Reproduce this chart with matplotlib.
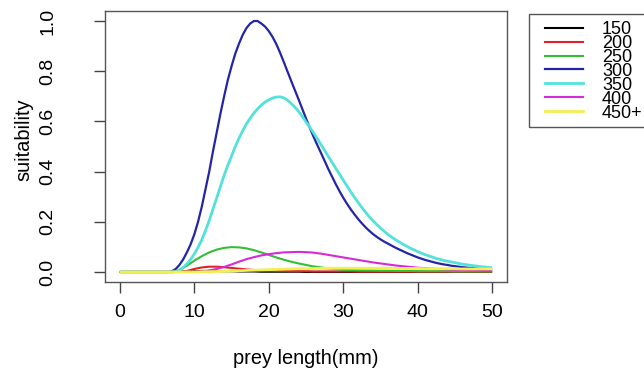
import matplotlib
matplotlib.use("Agg")
import matplotlib.pyplot as plt
from matplotlib.lines import Line2D
from matplotlib.patches import Rectangle

plt.rcParams['font.family'] = ['Liberation Sans', 'DejaVu Sans']

# prey length grids (mm): 1 mm for the small curves, 0.5 mm for the two large ones
prey_len = list(range(0, 51))
prey_len_fine = [i * 0.5 for i in range(101)]

# suitability by predator length class
s150 = [0]*8 + [0.001, 0.002, 0.003, 0.004, 0.004, 0.004, 0.003, 0.003, 0.002, 0.002,
                0.002, 0.001, 0.001, 0.001, 0.001, 0.001, 0.001] + [0.0]*26
s200 = [0]*9 + [0.004, 0.012, 0.018, 0.021, 0.021, 0.019, 0.016, 0.013, 0.010, 0.008,
                0.006, 0.005, 0.004, 0.004, 0.003, 0.003, 0.003, 0.002, 0.002, 0.002,
                0.002, 0.002, 0.002, 0.001, 0.001, 0.001, 0.001, 0.001, 0.001, 0.001,
                0.001, 0.001, 0.001, 0.001, 0.001, 0.001, 0.001, 0.001, 0.001, 0.001,
                0.001, 0.001]
s250 = [0]*8 + [0.008, 0.025, 0.045, 0.063, 0.078, 0.089, 0.096, 0.099, 0.098, 0.094,
                0.087, 0.078, 0.068, 0.058, 0.049, 0.041, 0.034, 0.028, 0.022, 0.018,
                0.014, 0.011, 0.009, 0.008, 0.007, 0.006, 0.006, 0.005, 0.005, 0.004,
                0.004, 0.004, 0.003, 0.003, 0.003, 0.003, 0.003, 0.002, 0.002, 0.002,
                0.002, 0.002, 0.002]
s300 = [0]*14 + [0.003, 0.012, 0.028, 0.05, 0.078, 0.11, 0.15, 0.20, 0.26, 0.33,
                 0.40, 0.48, 0.555, 0.63, 0.70, 0.765, 0.82, 0.87, 0.91, 0.945,
                 0.972, 0.99, 1.0, 1.0, 0.99, 0.978, 0.96, 0.937, 0.909, 0.875,
                 0.838, 0.80, 0.762, 0.725, 0.688, 0.65, 0.612, 0.575, 0.54, 0.507,
                 0.475, 0.443, 0.41, 0.38, 0.35, 0.322, 0.296, 0.272, 0.25, 0.23,
                 0.211, 0.194, 0.178, 0.164, 0.151, 0.14, 0.13, 0.121, 0.113, 0.105,
                 0.097, 0.09, 0.083, 0.076, 0.07, 0.064, 0.058, 0.053, 0.048, 0.044,
                 0.04, 0.036, 0.033, 0.03, 0.028, 0.025, 0.023, 0.021, 0.019, 0.0175,
                 0.016, 0.015, 0.014, 0.013, 0.012, 0.011, 0.010]
s350 = [0]*15 + [0.002, 0.008, 0.018, 0.032, 0.05, 0.072, 0.098, 0.128, 0.165, 0.205,
                 0.25, 0.295, 0.34, 0.385, 0.425, 0.462, 0.50, 0.533, 0.563, 0.59,
                 0.613, 0.633, 0.65, 0.665, 0.677, 0.686, 0.693, 0.697, 0.698, 0.694,
                 0.685, 0.672, 0.657, 0.64, 0.62, 0.598, 0.577, 0.555, 0.532, 0.508,
                 0.485, 0.46, 0.437, 0.413, 0.39, 0.366, 0.343, 0.32, 0.298, 0.277,
                 0.257, 0.238, 0.22, 0.204, 0.189, 0.175, 0.162, 0.15, 0.139, 0.129,
                 0.12, 0.111, 0.103, 0.095, 0.088, 0.081, 0.075, 0.069, 0.064, 0.059,
                 0.054, 0.05, 0.046, 0.043, 0.04, 0.037, 0.034, 0.031, 0.029, 0.027,
                 0.025, 0.023, 0.021, 0.02, 0.018, 0.017]
s400 = [0]*11 + [0.002, 0.006, 0.012, 0.020, 0.030, 0.041, 0.051, 0.059, 0.066, 0.071,
                 0.075, 0.078, 0.079, 0.080, 0.079, 0.077, 0.073, 0.068, 0.063, 0.058,
                 0.053, 0.048, 0.043, 0.038, 0.034, 0.030, 0.026, 0.023, 0.020, 0.017,
                 0.015, 0.013, 0.011, 0.010, 0.009, 0.008, 0.007, 0.006, 0.005, 0.005]
s450 = [0]*11 + [0.001, 0.001, 0.002, 0.003, 0.004, 0.005, 0.006, 0.007, 0.008, 0.009,
                 0.010, 0.011, 0.012, 0.013, 0.013, 0.014, 0.014, 0.015, 0.015, 0.015,
                 0.015, 0.015, 0.015, 0.015, 0.015, 0.015, 0.014, 0.014, 0.014, 0.014,
                 0.013, 0.013, 0.013, 0.013, 0.013, 0.012, 0.012, 0.012, 0.012, 0.012]

series = [(prey_len, s150), (prey_len, s200), (prey_len, s250),
          (prey_len_fine, s300), (prey_len_fine, s350),
          (prey_len, s400), (prey_len, s450)]
labels = ["150", "200", "250", "300", "350", "400", "450+"]
colors = ["#000000", "#E0202A", "#34BE34", "#2424A8", "#52E2DA", "#D62AD6", "#F0F050"]
widths = [1.5, 1.5, 1.5, 1.6, 2.0, 1.5, 2.0]

W, H = 644, 369
fig = plt.figure(figsize=(W / 100, H / 100), dpi=100)
ax = fig.add_axes([105 / W, 1 - 282 / H, (507 - 105) / W, (282 - 11) / H])

for (x, y), c, lw in zip(series, colors, widths):
    ax.plot(x, y, color=c, lw=lw, solid_capstyle='butt', solid_joinstyle='round')

ax.set_xlim(-2, 52)
ax.set_ylim(-0.04, 1.04)
ax.set_xticks([0, 10, 20, 30, 40, 50])
ax.set_yticks([0.0, 0.2, 0.4, 0.6, 0.8, 1.0])
ax.set_yticklabels(["0.0", "0.2", "0.4", "0.6", "0.8", "1.0"], rotation=90, va='center')
ax.tick_params(direction='out', length=8, width=1.0, color='#444444', labelsize=14)
ax.tick_params(axis='x', pad=7.5)
ax.tick_params(axis='y', pad=27)
for sp in ax.spines.values():
    sp.set_color('#555555')
    sp.set_linewidth(1.0)

ax.set_xlabel("prey length(mm)", fontsize=14.4, va='center')
ax.xaxis.set_label_coords(0.5, (282 - 359) / 271)
ax.set_ylabel("suitability", fontsize=14.4, va='center')
ax.yaxis.set_label_coords((24 - 105) / 402, (282 - 140) / 271)

# legend: frame drawn separately so it can run past the right edge
fig.patches.append(Rectangle((529 / W, 1 - 127 / H), 140 / W, (127 - 14) / H,
                             transform=fig.transFigure, fill=False,
                             edgecolor='#555555', linewidth=1.0))
handles = [Line2D([], [], color=c, lw=lw) for c, lw in zip(colors, widths)]
fig.legend(handles, labels, loc='upper left',
           bbox_to_anchor=(545 / W, 1 - 21 / H),
           fontsize=13, frameon=False,
           handlelength=2.1, handletextpad=1.05, labelspacing=-0.17,
           borderpad=0, borderaxespad=0)

fig.savefig("out.png", dpi=100)
